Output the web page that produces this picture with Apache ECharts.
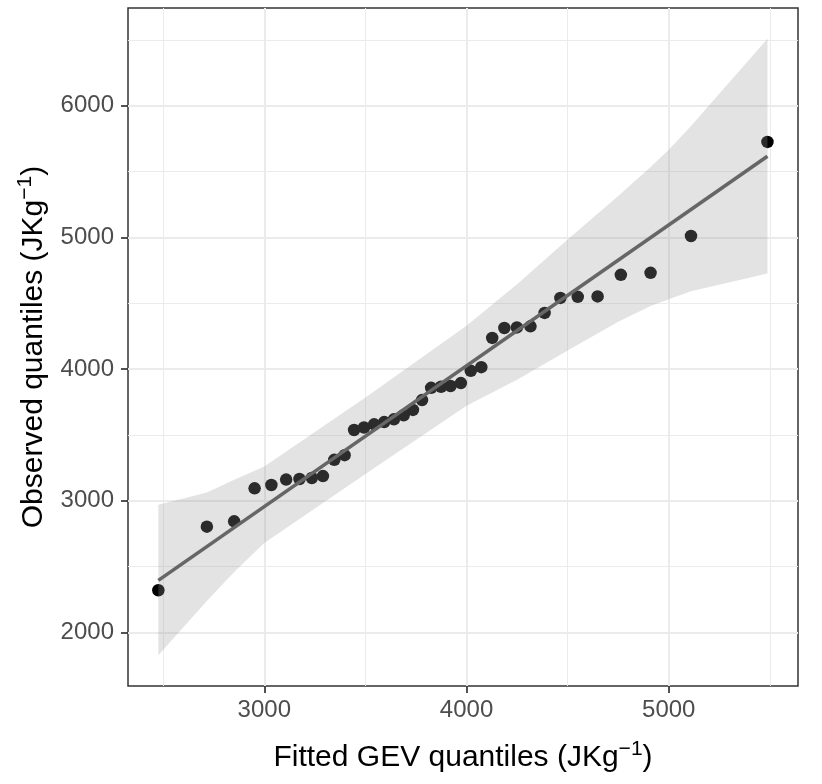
<!DOCTYPE html>
<html>
<head>
<meta charset="utf-8">
<script src="https://cdn.jsdelivr.net/npm/echarts@6/dist/echarts.min.js"></script>
<style>
  html, body { margin: 0; padding: 0; background: #fff; }
  #chart { width: 822px; height: 784px; }
</style>
</head>
<body>
<div id="chart"></div>
<script>
// QQ data: fitted GEV quantiles vs observed quantiles
const fitted = [2476, 2716, 2851, 2952, 3035, 3108, 3174, 3235, 3290, 3346, 3397, 3444, 3493,
  3543, 3593, 3641, 3689, 3735, 3780, 3825, 3874, 3921, 3972, 4021, 4073, 4127, 4187, 4249,
  4316, 4386, 4464, 4550, 4648, 4763, 4910, 5110, 5488];
const observed = [2321, 2804, 2844, 3095, 3120, 3161, 3166, 3173, 3188, 3311, 3347, 3538, 3557,
  3581, 3598, 3619, 3650, 3690, 3765, 3858, 3866, 3872, 3894, 3987, 4015, 4237, 4312, 4317,
  4325, 4427, 4541, 4549, 4552, 4716, 4731, 5011, 5725];

// fitted line end points
const lineX = [2476, 5488];
const lineY = [2396, 5616];

// envelope
const bandX     = [2476, 2716, 2851, 3000, 3500, 4000, 4250, 4500, 4750, 4910, 5000, 5110, 5488];
const bandUpper = [2970, 3064, 3160, 3261, 3785, 4330, 4645, 4985, 5315, 5535, 5665, 5846, 6508];
const bandLower = [1828, 2240, 2460, 2680, 3203, 3722, 3920, 4141, 4360, 4480, 4530, 4591, 4726];

// axis ticks
const xMajor = [3000, 4000, 5000];
const xMinor = [2500, 3500, 4500, 5500];
const yMajor = [2000, 3000, 4000, 5000, 6000];
const yMinor = [2500, 3500, 4500, 5500, 6500];

const FONT = 'Liberation Sans';
const gridMajor = { color: '#ebebeb', width: 2, type: 'solid' };
const gridMinor = { color: '#ebebeb', width: 1, type: 'solid' };

const gridLines = [].concat(
  xMinor.map(v => ({ xAxis: v, lineStyle: gridMinor })),
  yMinor.map(v => ({ yAxis: v, lineStyle: gridMinor })),
  xMajor.map(v => ({ xAxis: v, lineStyle: gridMajor })),
  yMajor.map(v => ({ yAxis: v, lineStyle: gridMajor }))
);

const titleRich = {
  sup: { fontSize: 21, fontFamily: FONT, color: '#000', verticalAlign: 'top', lineHeight: 22 },
  base: { fontSize: 30, fontFamily: FONT, color: '#000', lineHeight: 37 }
};

function renderBand(params, api) {
  if (params.dataIndex !== 0) return;
  const pts = [];
  for (let i = 0; i < bandX.length; i++) pts.push(api.coord([bandX[i], bandUpper[i]]));
  for (let i = bandX.length - 1; i >= 0; i--) pts.push(api.coord([bandX[i], bandLower[i]]));
  return {
    type: 'polygon',
    shape: { points: pts },
    style: { fill: 'rgba(153,153,153,0.28)' }
  };
}

const chart = echarts.init(document.getElementById('chart'));
chart.setOption({
  animation: false,
  backgroundColor: '#fff',
  grid: {
    left: 128, right: 24, top: 8, bottom: 98,
    show: true, borderColor: '#333', borderWidth: 1.5, backgroundColor: 'transparent'
  },
  xAxis: {
    type: 'value',
    min: 2326, max: 5639,
    name: '{base|Fitted GEV quantiles (JKg}{sup|−1}{base|)}',
    nameLocation: 'middle',
    nameGap: 53,
    nameTextStyle: { rich: titleRich },
    axisLine: { show: false },
    axisTick: { show: true, length: 7, customValues: xMajor, lineStyle: { color: '#333', width: 1.7 } },
    axisLabel: {
      customValues: xMajor, margin: 12, color: '#4d4d4d', fontSize: 24, fontFamily: FONT,
      formatter: v => String(v)
    },
    splitLine: { show: false }
  },
  yAxis: {
    type: 'value',
    min: 1594, max: 6742,
    name: '{base|Observed quantiles (JKg}{sup|−1}{base|)}',
    nameLocation: 'middle',
    nameRotate: 90,
    nameGap: 76,
    nameTextStyle: { rich: titleRich },
    axisLine: { show: false },
    axisTick: { show: true, length: 7, customValues: yMajor, lineStyle: { color: '#333', width: 1.7 } },
    axisLabel: {
      customValues: yMajor, margin: 14, color: '#4d4d4d', fontSize: 24, fontFamily: FONT,
      formatter: v => String(v)
    },
    splitLine: { show: false }
  },
  series: [
    {
      type: 'scatter',
      z: 2,
      symbolSize: 12.5,
      itemStyle: { color: '#000', opacity: 1 },
      data: fitted.map((x, i) => [x, observed[i]]),
      markLine: {
        silent: true,
        z: 1,
        symbol: ['none', 'none'],
        label: { show: false },
        animation: false,
        data: gridLines
      }
    },
    {
      type: 'custom',
      z: 3,
      silent: true,
      renderItem: renderBand,
      data: [[bandX[0], bandLower[0]]]
    },
    {
      type: 'line',
      z: 4,
      symbol: 'none',
      silent: true,
      lineStyle: { color: '#666', width: 3.6 },
      data: lineX.map((x, i) => [x, lineY[i]])
    }
  ]
});
</script>
</body>
</html>
